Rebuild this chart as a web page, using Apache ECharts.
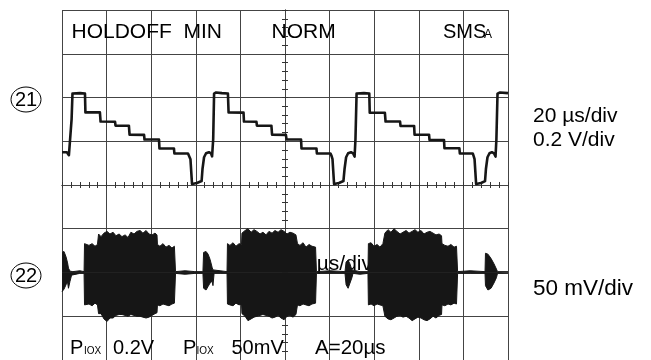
<!DOCTYPE html>
<html>
<head>
<meta charset="utf-8">
<title>Scope capture</title>
<script src="https://cdn.jsdelivr.net/npm/echarts@6/dist/echarts.min.js"></script>
<style>
  html, body { margin: 0; padding: 0; background: #fff; }
  #chart { width: 651px; height: 360px; }
</style>
</head>
<body>
<div id="chart"></div>
<script>
// Channel 1 (0.2 V/div): staircase ramp, time in µs relative to screen centre
const ch1Time = [
  -100.0, -97.8, -96.9, -96.2, -95.7, -95.3, -94.6, -91.9, -89.7,
  -89.5, -83.0, -82.7, -76.2, -76.0, -70.0, -69.7, -63.2, -63.0, -56.5,
  -56.3, -49.8, -49.6, -43.5, -42.8, -42.4, -41.7, -41.3, -39.5, -37.4,
  -37.0, -36.3, -35.4, -34.1, -33.2, -32.7, -32.2, -31.8,
  -30.9, -28.3, -25.6, -25.3, -18.6, -18.4, -12.8, -12.6, -6.1, -5.8,
  0.4, 0.7, 7.2, 7.4, 14.1, 14.3, 20.4, 20.9, 21.3, 22.0, 22.4, 24.2,
  26.2, 26.7, 27.4, 28.3, 29.6, 30.5, 31.2, 31.6, 32.1,
  32.7, 35.4, 37.8, 38.0, 44.8, 45.1, 51.6, 51.8, 57.9, 58.1, 64.6,
  64.8, 71.3, 71.5, 78.2, 78.4, 84.2, 84.6, 85.0, 85.7, 86.1, 87.9,
  89.7, 90.1, 90.8, 91.7, 92.8, 93.7, 94.4, 94.8, 95.3, 96.4, 100.0
];
const ch1Volts = [
  0.150, 0.150, 0.136, 0.127, 0.300, 0.418, 0.423, 0.420, 0.418,
  0.332, 0.332, 0.290, 0.289, 0.271, 0.271, 0.230, 0.229, 0.208, 0.208,
  0.167, 0.167, 0.144, 0.144, 0.136, 0.118, 0.005, 0.002, 0.009, 0.018,
  0.073, 0.127, 0.145, 0.150, 0.145, 0.131, 0.209, 0.418,
  0.423, 0.420, 0.418, 0.332, 0.331, 0.290, 0.289, 0.271, 0.271, 0.230,
  0.229, 0.208, 0.208, 0.167, 0.167, 0.144, 0.144, 0.132, 0.118, 0.005,
  0.002, 0.009, 0.018, 0.073, 0.127, 0.145, 0.150, 0.145, 0.130, 0.209, 0.418,
  0.423, 0.420, 0.418, 0.330, 0.330, 0.290, 0.290, 0.270, 0.270, 0.230,
  0.230, 0.206, 0.206, 0.168, 0.168, 0.144, 0.144, 0.132, 0.118, 0.005,
  0.002, 0.009, 0.018, 0.073, 0.127, 0.145, 0.150, 0.145, 0.130, 0.209,
  0.418, 0.423, 0.420
];

// Channel 2 (50 mV/div): burst envelope, upper and lower peaks in mV
const ch2Time = [
  -100.0, -99.1, -98.2, -97.5, -97.1, -96.4, -95.7, -95.1, -92.0, -90.1,
  -89.9, -89.2, -87.9, -86.5, -85.2, -84.1,
  -83.6, -82.5, -81.2, -79.8, -78.5, -77.1, -75.8, -74.4, -73.1, -71.7,
  -70.4, -69.1, -67.7, -66.4, -65.0, -63.7, -62.3, -61.0, -59.6, -58.3, -57.4,
  -57.2, -56.1, -54.7, -53.4, -52.0, -50.7, -49.6,
  -49.1, -44.8, -40.4, -36.8,
  -36.5, -35.4, -34.5, -33.6, -32.7, -32.3,
  -31.8, -29.1, -26.0,
  -25.8, -24.7, -23.3, -22.0, -20.6, -19.5,
  -19.3, -17.9, -16.6, -15.2, -13.9, -12.6, -11.2, -9.9, -8.5, -7.2, -5.8,
  -4.5, -3.1, -1.8, -0.4, 0.9, 2.2, 3.6, 4.9, 5.4,
  5.6, 6.7, 8.1, 9.4, 10.8, 12.1, 13.7,
  14.1, 20.2, 26.9,
  27.4, 28.3, 29.1, 30.0,
  30.5, 33.6, 37.2,
  37.4, 38.6, 39.9, 41.3, 42.6, 43.9, 44.6,
  44.8, 46.2, 47.5, 48.9, 50.2, 51.6, 52.9, 54.3, 55.6, 57.0, 58.3, 59.6,
  61.0, 62.3, 63.7, 65.0, 66.4, 67.7, 69.1, 70.2,
  70.4, 71.7, 73.1, 74.4, 75.8, 76.9,
  77.4, 83.0, 89.7,
  89.9, 91.0, 92.4, 93.7, 94.8,
  95.3, 100.0
];
const ch2Upper = [
  23, 24, 18, 11, 5, 1.5, 1.5, 1, 2, 1,
  33, 34, 31, 33, 30, 32,
  44, 41, 45, 47, 44, 46, 42, 44, 41, 43,
  40, 46, 44, 47, 48, 45, 48, 44, 43, 45, 43,
  32, 30, 33, 29, 31, 28, 30,
  1, 2, 1, 1,
  23, 24, 21, 15, 6, 3,
  1, 2, 1,
  33, 31, 34, 30, 33, 32,
  45, 48, 50, 46, 49, 47, 44, 46, 43, 47, 45,
  48, 46, 49, 47, 44, 46, 45, 43, 42,
  33, 31, 34, 29, 32, 30, 29,
  1, 2, 1,
  12, 14, 10, 3,
  1, 1, 1,
  33, 34, 30, 32, 29, 33, 31,
  45, 49, 46, 50, 47, 44, 46, 48, 45, 47, 49, 46,
  48, 44, 46, 47, 45, 43, 44, 42,
  33, 31, 30, 32, 29, 30,
  1, 2, 1,
  22, 21, 16, 10, 4,
  1, 1
];
const ch2Lower = [
  -22, -19, -14, -11, -18, -10, -3, -1, -1, -1,
  -37, -37, -36, -38, -35, -37,
  -47, -47, -53, -56, -52, -52, -49, -48, -48, -49,
  -50, -48, -49, -50, -50, -51, -52, -51, -49, -47, -46,
  -37, -38, -36, -37, -38, -36, -35,
  -1, -2, -1, -1,
  -18, -20, -16, -12, -10, -15,
  -1, -1, -1,
  -36, -37, -38, -35, -37, -36,
  -47, -50, -55, -53, -51, -50, -49, -48, -49, -50, -52,
  -51, -49, -52, -54, -50, -49, -51, -48, -47,
  -37, -38, -36, -37, -38, -36, -35,
  -1, -1, -1,
  -14, -18, -16, -6,
  -1, -2, -1,
  -37, -36, -38, -36, -37, -38, -37,
  -50, -53, -54, -52, -50, -49, -51, -50, -52, -55, -53, -51,
  -52, -54, -55, -53, -50, -52, -49, -48,
  -37, -38, -36, -37, -35, -36,
  -1, -1, -1,
  -15, -20, -18, -12, -6,
  -1, -1
];

const TRACE = '#161616';
const GRID = '#444';
const FONT = "'Liberation Sans', Arial, Helvetica, sans-serif";

const ch1Data = ch1Time.map((t, i) => [t, ch1Volts[i]]);
const ch2UpData = ch2Time.map((t, i) => [t, ch2Upper[i]]);
const ch2LoData = ch2Time.map((t, i) => [t, ch2Lower[i]]);

function label(text, x, y, size) {
  return {
    type: 'text', x: x, y: y, z: 1,
    style: { text: text, font: size + 'px ' + FONT, fill: '#000',
             textAlign: 'left', textVerticalAlign: 'middle' }
  };
}

function marker(text, cy) {
  return [
    { type: 'ellipse', shape: { cx: 26, cy: cy, rx: 15, ry: 12.5 }, z: 1,
      style: { fill: 'none', stroke: '#000', lineWidth: 1 } },
    { type: 'text', x: 26, y: cy + 0.5, z: 1,
      style: { text: text, font: '20px ' + FONT, fill: '#000',
               textAlign: 'center', textVerticalAlign: 'middle' } }
  ];
}

const tickStyle = { color: '#333', width: 1 };

function centreAxis(pos, withGrid, range) {
  return Object.assign({
    type: 'value', position: pos,
    axisLine: { show: true, onZero: true, onZeroAxisIndex: 0, lineStyle: { color: GRID } },
    axisTick: { show: true, length: 3, lineStyle: tickStyle },
    minorTick: { show: true, splitNumber: 5, length: 3, lineStyle: tickStyle },
    axisLabel: { show: false },
    splitLine: { show: withGrid, lineStyle: { color: GRID, width: 1 } }
  }, range);
}

const timeRange = { min: -100, max: 100, interval: 20 };
const voltRange = { min: -0.8, max: 0.8, interval: 0.2 };

const chart = echarts.init(document.getElementById('chart'), null, { renderer: 'canvas' });
chart.setOption({
  animation: false,
  backgroundColor: '#fff',
  grid: { left: 62, top: 10, width: 446, height: 352, containLabel: false },
  xAxis: [
    centreAxis('bottom', true, timeRange),
    centreAxis('top', false, timeRange)
  ],
  yAxis: [
    centreAxis('left', true, voltRange),
    centreAxis('right', false, voltRange),
    { type: 'value', min: -100, max: 300, interval: 50, show: false }
  ],
  series: [
    {
      name: 'CH1', type: 'line', xAxisIndex: 0, yAxisIndex: 0, z: 5,
      data: ch1Data, showSymbol: false, symbol: 'none',
      lineStyle: { color: TRACE, width: 2.6, join: 'round' }
    },
    {
      name: 'CH2 upper', type: 'line', xAxisIndex: 0, yAxisIndex: 2, z: 5,
      data: ch2UpData, showSymbol: false, symbol: 'none',
      lineStyle: { color: TRACE, width: 1 },
      areaStyle: { color: TRACE, opacity: 1, origin: 0 }
    },
    {
      name: 'CH2 lower', type: 'line', xAxisIndex: 0, yAxisIndex: 2, z: 5,
      data: ch2LoData, showSymbol: false, symbol: 'none',
      lineStyle: { color: TRACE, width: 1 },
      areaStyle: { color: TRACE, opacity: 1, origin: 0 }
    }
  ],
  graphic: [
    // screen annotations
    label('HOLDOFF  MIN', 71.5, 32.5, 21),
    label('NORM', 271.5, 32.5, 21),
    label('SMS', 443, 32.5, 20),
    label('A', 484, 35, 12),
    label('20 µs/div', 287.5, 264.5, 21),
    label('P', 70, 348.5, 20),
    label('IOX', 84, 351.5, 10),
    label('0.2V', 113, 348.5, 20),
    label('P', 183, 348.5, 20),
    label('IOX', 196.5, 351.5, 10),
    label('50mV', 231.5, 348.5, 20),
    label('A=20µs', 315, 348.5, 20.5),
    // side annotations
    label('20 µs/div', 533, 116.5, 21),
    label('0.2 V/div', 533, 140, 21),
    label('50 mV/div', 533, 289, 22.5)
  ].concat(marker('21', 99.5), marker('22', 275.5))
});
</script>
</body>
</html>
